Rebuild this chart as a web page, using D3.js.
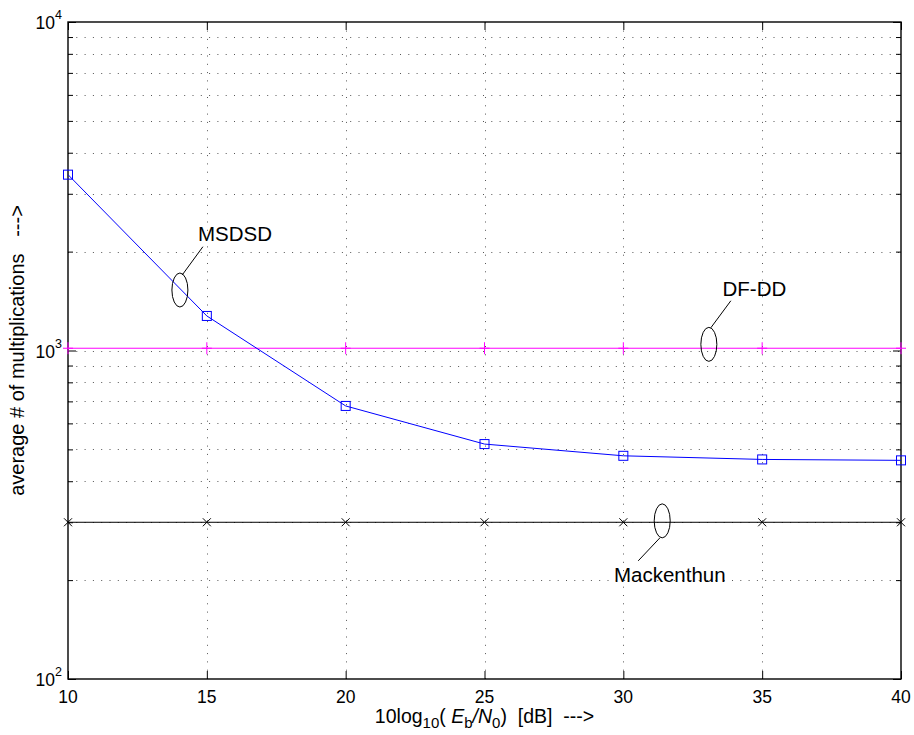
<!DOCTYPE html>
<html>
<head>
<meta charset="utf-8">
<script src="https://cdn.jsdelivr.net/npm/d3@7"></script>
<style>
  body { margin: 0; background: #fff; }
  svg { display: block; font-family: Arial, "Liberation Sans", Helvetica, sans-serif; }
</style>
</head>
<body>
<svg id="chart" width="914" height="735"></svg>
<script>
// Eb/N0 in dB
const snrDb = [10, 15, 20, 25, 30, 35, 40];
// average number of multiplications
const msdsd = [3430, 1274, 678, 519, 478, 466, 463];
const dfdd = [1016, 1016, 1016, 1016, 1016, 1016, 1016];
const mackenthun = [300, 300, 300, 300, 300, 300, 300];

const xTicks = [10, 15, 20, 25, 30, 35, 40];
const yMajor = [100, 1000, 10000];
const yExp = [2, 3, 4];

// annotation anchors (ellipse centre, in data units)
const annotText = ["MSDSD", "DF-DD", "Mackenthun"];
const annotX = [14.03, 33.08, 31.4];
const annotY = [1528, 1044, 303];

const svg = d3.select("#chart");
const pLeft = 68, pRight = 901, pTop = 22, pBottom = 679;

const x = d3.scaleLinear().domain([10, 40]).range([pLeft, pRight]);
const y = d3.scaleLog().domain([100, 10000]).range([pBottom, pTop]);

// minor ticks 200..900, 2000..9000
const yMinor = [];
[100, 1000].forEach(d => { for (let k = 2; k <= 9; k++) yMinor.push(d * k); });

// dotted grid
const grid = svg.append("g").attr("stroke", "#555").attr("stroke-width", 1)
  .attr("stroke-dasharray", "1,7.3").attr("fill", "none");
grid.selectAll(".gx").data(xTicks.slice(1, -1)).join("line")
  .attr("x1", d => Math.round(x(d)) + 0.5).attr("x2", d => Math.round(x(d)) + 0.5)
  .attr("y1", pBottom).attr("y2", pTop);
grid.selectAll(".gy").data(yMinor.concat([1000])).join("line")
  .attr("x1", pLeft).attr("x2", pRight)
  .attr("y1", d => Math.round(y(d)) + 0.5).attr("y2", d => Math.round(y(d)) + 0.5);

// ticks via d3 axes (inside, on all four sides)
function styleAxis(g) {
  g.select(".domain").remove();
  g.selectAll(".tick text").remove();
  g.selectAll(".tick line").attr("stroke", "#000").attr("stroke-width", 1);
}
svg.append("g").attr("transform", `translate(0,${pBottom})`)
  .call(d3.axisBottom(x).tickValues(xTicks).tickSize(-8)).call(styleAxis);
svg.append("g").attr("transform", `translate(0,${pTop})`)
  .call(d3.axisTop(x).tickValues(xTicks).tickSize(-8)).call(styleAxis);
svg.append("g").attr("transform", `translate(${pLeft},0)`)
  .call(d3.axisLeft(y).tickValues(yMajor).tickSize(-8)).call(styleAxis);
svg.append("g").attr("transform", `translate(${pLeft},0)`)
  .call(d3.axisLeft(y).tickValues(yMinor).tickSize(-5)).call(styleAxis);
svg.append("g").attr("transform", `translate(${pRight},0)`)
  .call(d3.axisRight(y).tickValues(yMajor).tickSize(-8)).call(styleAxis);
svg.append("g").attr("transform", `translate(${pRight},0)`)
  .call(d3.axisRight(y).tickValues(yMinor).tickSize(-5)).call(styleAxis);

// frame
svg.append("rect").attr("x", pLeft).attr("y", pTop)
  .attr("width", pRight - pLeft).attr("height", pBottom - pTop)
  .attr("fill", "none").attr("stroke", "#000").attr("stroke-width", 1.4);

// tick labels
svg.append("g").selectAll("text").data(xTicks).join("text")
  .attr("x", d => x(d)).attr("y", pBottom + 24)
  .attr("text-anchor", "middle").attr("font-size", 17.5).text(d => d);

const yl = svg.append("g").selectAll("text").data(yMajor).join("text")
  .attr("x", pLeft - 6).attr("y", d => y(d) + 7)
  .attr("text-anchor", "end").attr("font-size", 17.5);
yl.append("tspan").text("10");
yl.append("tspan").attr("dy", -10).attr("font-size", 12.5).text((d, i) => yExp[i]);

// series
const line = d3.line().x((d, i) => x(snrDb[i])).y(d => y(d));

svg.append("path").datum(mackenthun).attr("d", line)
  .attr("fill", "none").attr("stroke", "#000").attr("stroke-width", 1);
svg.append("g").selectAll("path").data(mackenthun).join("path")
  .attr("transform", (d, i) => `translate(${x(snrDb[i])},${y(d)})`)
  .attr("d", "M-4,-4L4,4M-4,4L4,-4").attr("stroke", "#000").attr("stroke-width", 1);

svg.append("path").datum(dfdd).attr("d", line)
  .attr("fill", "none").attr("stroke", "#ff00ff").attr("stroke-width", 1);
svg.append("g").selectAll("path").data(dfdd).join("path")
  .attr("transform", (d, i) => `translate(${x(snrDb[i])},${y(d)})`)
  .attr("d", "M-5,0L5,0M0,-6L0,6").attr("stroke", "#ff00ff").attr("stroke-width", 1);

svg.append("path").datum(msdsd).attr("d", line)
  .attr("fill", "none").attr("stroke", "#0000ff").attr("stroke-width", 1);
svg.append("g").selectAll("rect").data(msdsd).join("rect")
  .attr("x", (d, i) => x(snrDb[i]) - 4.5).attr("y", d => y(d) - 4.5)
  .attr("width", 9).attr("height", 9)
  .attr("fill", "none").attr("stroke", "#0000ff").attr("stroke-width", 1);

// annotations: ellipse + leader + label (offsets in px from ellipse centre)
const annotOffsets = [
  { l: [2.3, -15, 23, -43.3], t: [18, -49.3] },
  { l: [2, -16.6, 22, -43.6], t: [13.7, -48.6] },
  { l: [-2.3, 17, -24, 40], t: [-48.3, 61.3] }
];
const ann = svg.append("g").selectAll("g").data(annotText).join("g")
  .attr("transform", (d, i) => `translate(${x(annotX[i])},${y(annotY[i])})`);
ann.append("ellipse").attr("rx", 8).attr("ry", 17)
  .attr("fill", "none").attr("stroke", "#000").attr("stroke-width", 1);
ann.append("line")
  .attr("x1", (d, i) => annotOffsets[i].l[0]).attr("y1", (d, i) => annotOffsets[i].l[1])
  .attr("x2", (d, i) => annotOffsets[i].l[2]).attr("y2", (d, i) => annotOffsets[i].l[3])
  .attr("stroke", "#000").attr("stroke-width", 1);
ann.append("text")
  .attr("x", (d, i) => annotOffsets[i].t[0]).attr("y", (d, i) => annotOffsets[i].t[1])
  .attr("font-size", 20.5).text(d => d);

// axis labels
const xl = svg.append("text").attr("x", (pLeft + pRight) / 2).attr("y", 723)
  .attr("text-anchor", "middle").attr("font-size", 19.5)
  .attr("xml:space", "preserve");
xl.append("tspan").text("10log");
xl.append("tspan").attr("dy", 5).attr("font-size", 15).text("10");
xl.append("tspan").attr("dy", -5).text("( ");
xl.append("tspan").attr("font-style", "italic").text("E");
xl.append("tspan").attr("dy", 5).attr("font-size", 15).text("b");
xl.append("tspan").attr("dy", -5).attr("font-style", "italic").text("/N");
xl.append("tspan").attr("dy", 5).attr("font-size", 15).text("0");
xl.append("tspan").attr("dy", -5).text(")  [dB]  --->");

svg.append("text")
  .attr("transform", `translate(24,${(pTop + pBottom) / 2}) rotate(-90)`)
  .attr("text-anchor", "middle").attr("font-size", 20)
  .attr("xml:space", "preserve")
  .text("average # of multiplications   --->");
</script>
</body>
</html>
